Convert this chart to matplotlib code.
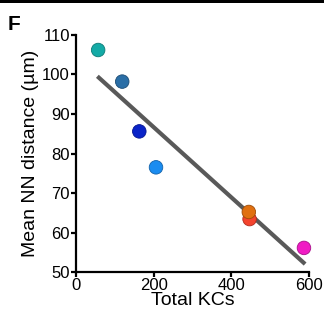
import numpy as np
import matplotlib.pyplot as plt
from matplotlib.patches import Rectangle

plt.rcParams['font.family'] = ['Liberation Sans', 'DejaVu Sans']

# data
total_kcs = [57, 119, 163, 206, 447, 445, 587]
mean_nn = [106.2, 98.2, 85.6, 76.5, 63.4, 65.2, 56.1]
colors = ['#14aaa6', '#2a6ea6', '#0a24c8', '#1a8cf0', '#f4442e', '#e07010', '#f01cc4']
edge_colors = ['#0c7a76', '#1c4c74', '#061690', '#1262aa', '#b02a1c', '#9e4c08', '#a8108a']

fig = plt.figure(figsize=(3.24, 3.21), dpi=100)
ax = fig.add_axes([0.2346, 0.1526, 0.7191, 0.7384])

# regression line
k, b = np.polyfit(total_kcs, mean_nn, 1)
xl = np.array([min(total_kcs) - 2, max(total_kcs) + 3])
ax.plot(xl, k * xl + b, color='#595959', lw=3, solid_capstyle='butt', zorder=2)

ax.scatter(total_kcs, mean_nn, s=95, c=colors, edgecolors=edge_colors,
           linewidths=0.6, zorder=3, clip_on=False)

ax.set_xlim(0, 600)
ax.set_ylim(50, 110)
ax.set_xticks([0, 200, 400, 600])
ax.set_yticks(range(50, 111, 10))
ax.spines['top'].set_visible(False)
ax.spines['right'].set_visible(False)
ax.spines['left'].set_linewidth(1.6)
ax.spines['bottom'].set_linewidth(1.6)
ax.tick_params(width=1.6, length=3.5, labelsize=12, pad=1, colors='black')
ax.set_xlabel('Total KCs', fontsize=14, labelpad=-1)
ax.set_ylabel('Mean NN distance (µm)', fontsize=14, labelpad=2)

fig.text(0.025, 0.905, 'F', fontsize=15, fontweight='bold')
fig.add_artist(Rectangle((0, 0.99), 1, 0.01, transform=fig.transFigure,
                         color='black', lw=0))

plt.savefig('out.png', dpi=100)
